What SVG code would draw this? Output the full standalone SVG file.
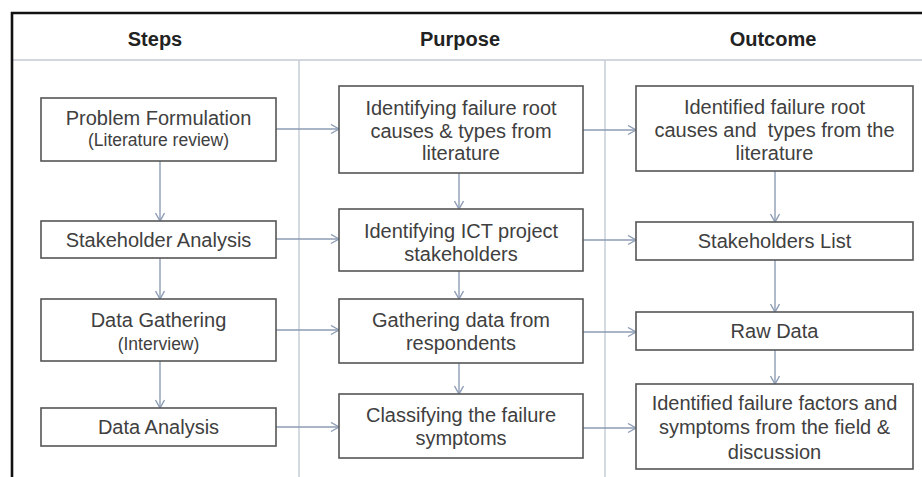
<svg xmlns="http://www.w3.org/2000/svg" width="922" height="477" viewBox="0 0 922 477">
<style>
.box{fill:#fff;stroke:#555;stroke-width:1.6}
.t{font-family:"Liberation Sans",Arial,sans-serif;font-size:20px;fill:#404040;text-anchor:middle}
.s{font-size:17.5px}
.h{font-family:"Liberation Sans",Arial,sans-serif;font-size:20px;font-weight:bold;fill:#222;text-anchor:middle}
.c{stroke:#8d9db5;stroke-width:1.4;fill:none}
.g{stroke:#c3cad3;stroke-width:1.4;fill:none}
</style>
<defs>
<marker id="arr" markerWidth="12" markerHeight="12" refX="9" refY="5" orient="auto" markerUnits="userSpaceOnUse">
<path d="M1,0.5 L9,5 L1,9.5" fill="none" stroke="#8d9db5" stroke-width="1.4"/>
</marker>
</defs>
<rect x="0" y="0" width="922" height="477" fill="#fff"/>
<g id="frame">
<line class="g" x1="13" y1="60" x2="922" y2="60"/>
<line class="g" x1="299" y1="60" x2="299" y2="477"/>
<line class="g" x1="605" y1="60" x2="605" y2="477"/>
<line x1="11" y1="13" x2="922" y2="13" stroke="#111" stroke-width="2.6"/>
<line x1="12" y1="12" x2="12" y2="477" stroke="#111" stroke-width="2.6"/>
</g>
<g id="headers">
<text class="h" x="155" y="46">Steps</text>
<text class="h" x="460" y="46">Purpose</text>
<text class="h" x="773" y="46">Outcome</text>
</g>
<g id="connectors">
<line class="c" x1="276" y1="129" x2="339" y2="129" marker-end="url(#arr)"/>
<line class="c" x1="583" y1="130" x2="636" y2="130" marker-end="url(#arr)"/>
<line class="c" x1="276" y1="239" x2="339" y2="239" marker-end="url(#arr)"/>
<line class="c" x1="583" y1="240" x2="636" y2="240" marker-end="url(#arr)"/>
<line class="c" x1="276" y1="330" x2="339" y2="330" marker-end="url(#arr)"/>
<line class="c" x1="583" y1="332" x2="636" y2="332" marker-end="url(#arr)"/>
<line class="c" x1="276" y1="427" x2="339" y2="427" marker-end="url(#arr)"/>
<line class="c" x1="583" y1="428" x2="636" y2="428" marker-end="url(#arr)"/>
<line class="c" x1="160" y1="161" x2="160" y2="221" marker-end="url(#arr)"/>
<line class="c" x1="160" y1="258" x2="160" y2="299" marker-end="url(#arr)"/>
<line class="c" x1="160" y1="361" x2="160" y2="408" marker-end="url(#arr)"/>
<line class="c" x1="459" y1="173" x2="459" y2="209" marker-end="url(#arr)"/>
<line class="c" x1="459" y1="271" x2="459" y2="299" marker-end="url(#arr)"/>
<line class="c" x1="459" y1="363" x2="459" y2="394" marker-end="url(#arr)"/>
<line class="c" x1="775" y1="171" x2="775" y2="222" marker-end="url(#arr)"/>
<line class="c" x1="775" y1="260" x2="775" y2="312" marker-end="url(#arr)"/>
<line class="c" x1="775" y1="350" x2="775" y2="384" marker-end="url(#arr)"/>
</g>
<g id="step1"><rect class="box" x="41" y="98" width="235" height="63"/>
<text class="t" x="158.5" y="125">Problem Formulation</text>
<text class="t s" x="158.5" y="146">(Literature review)</text></g>
<g id="step2"><rect class="box" x="41" y="221" width="235" height="37"/>
<text class="t" x="158.5" y="247">Stakeholder Analysis</text></g>
<g id="step3"><rect class="box" x="41" y="299" width="235" height="62"/>
<text class="t" x="158.5" y="327">Data Gathering</text>
<text class="t s" x="158.5" y="350">(Interview)</text></g>
<g id="step4"><rect class="box" x="41" y="408" width="235" height="38"/>
<text class="t" x="158.5" y="434">Data Analysis</text></g>
<g id="purpose1"><rect class="box" x="339" y="86" width="244" height="87"/>
<text class="t" x="461" y="115">Identifying failure root</text>
<text class="t" x="461" y="137.5">causes &amp; types from</text>
<text class="t" x="461" y="160">literature</text></g>
<g id="purpose2"><rect class="box" x="339" y="209" width="244" height="62"/>
<text class="t" x="461" y="238">Identifying ICT project</text>
<text class="t" x="461" y="261">stakeholders</text></g>
<g id="purpose3"><rect class="box" x="339" y="299" width="244" height="64"/>
<text class="t" x="461" y="327">Gathering data from</text>
<text class="t" x="461" y="350">respondents</text></g>
<g id="purpose4"><rect class="box" x="339" y="394" width="244" height="64"/>
<text class="t" x="461" y="422">Classifying the failure</text>
<text class="t" x="461" y="445">symptoms</text></g>
<g id="outcome1"><rect class="box" x="636" y="86" width="277" height="85"/>
<text class="t" x="774.5" y="114">Identified failure root</text>
<text class="t" x="774.5" y="137">causes and&#160; types from the</text>
<text class="t" x="774.5" y="160">literature</text></g>
<g id="outcome2"><rect class="box" x="636" y="222" width="277" height="38"/>
<text class="t" x="774.5" y="248">Stakeholders List</text></g>
<g id="outcome3"><rect class="box" x="636" y="312" width="277" height="38"/>
<text class="t" x="774.5" y="338">Raw Data</text></g>
<g id="outcome4"><rect class="box" x="636" y="384" width="277" height="85"/>
<text class="t" x="774.5" y="410">Identified failure factors and</text>
<text class="t" x="774.5" y="434">symptoms from the field &amp;</text>
<text class="t" x="774.5" y="459">discussion</text></g>
</svg>
